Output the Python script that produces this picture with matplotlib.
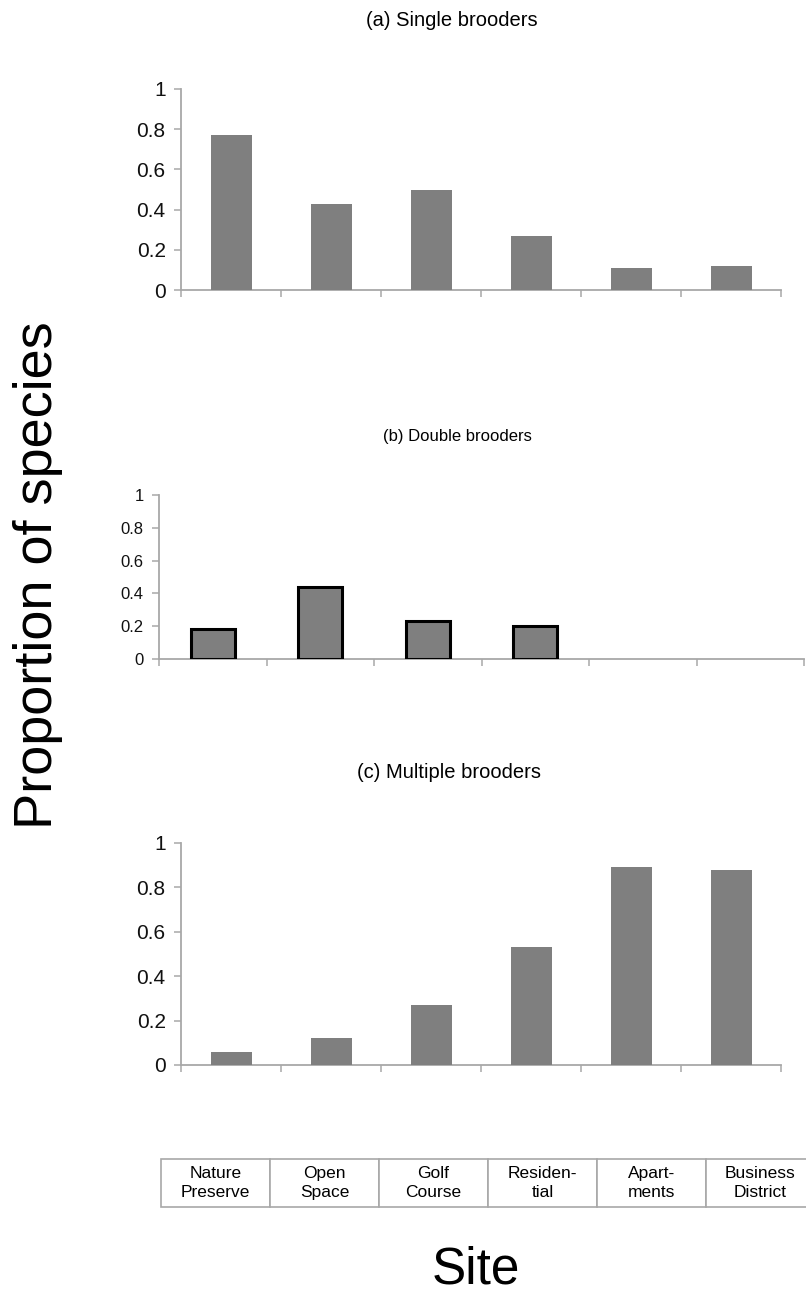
import matplotlib
matplotlib.use("Agg")
import matplotlib.pyplot as plt
import numpy as np

plt.rcParams['font.family'] = ['Liberation Sans', 'DejaVu Sans']

# proportion of species per brooding strategy at each site
sites = ["Nature\nPreserve", "Open\nSpace", "Golf\nCourse",
         "Residen-\ntial", "Apart-\nments", "Business\nDistrict"]
single = [0.77, 0.43, 0.50, 0.27, 0.11, 0.12]
double = [0.18, 0.44, 0.23, 0.20, 0.0, 0.0]
multiple = [0.06, 0.12, 0.27, 0.53, 0.89, 0.88]
yticks = [0, 0.2, 0.4, 0.6, 0.8, 1]
ytick_labels = ["0", "0.2", "0.4", "0.6", "0.8", "1"]

W, H = 806, 1296
BAR = '#7f7f7f'
AXC = '#a8a8a8'


def px_axes(fig, left, right, top, bottom):
    return fig.add_axes([left / W, 1 - bottom / H, (right - left) / W, (bottom - top) / H])


def style_panel(ax, values, tick_size, edge=None):
    x = np.arange(len(values))
    bars = ax.bar(x, values, width=0.41, color=BAR,
                  edgecolor=edge if edge else BAR,
                  linewidth=2.2 if edge else 0, zorder=3)
    for b, v in zip(bars, values):
        if v == 0:
            b.set_visible(False)
    ax.set_xlim(-0.5, len(values) - 0.5)
    ax.set_ylim(0, 1)
    ax.set_xticks(np.arange(len(values) + 1) - 0.5)
    ax.set_xticklabels([])
    ax.set_yticks(yticks)
    ax.set_yticklabels(ytick_labels, fontsize=tick_size)
    for s in ['top', 'right']:
        ax.spines[s].set_visible(False)
    for s in ['left', 'bottom']:
        ax.spines[s].set_color(AXC)
        ax.spines[s].set_linewidth(1.3)
    ax.tick_params(axis='both', direction='out', length=5, width=1.1, color=AXC,
                   labelcolor='#111111')
    ax.tick_params(axis='y', pad=6)
    ax.patch.set_alpha(0)


fig = plt.figure(figsize=(W / 100, H / 100), dpi=100)

ax_a = px_axes(fig, 181, 781, 89, 290)
style_panel(ax_a, single, 15)
fig.text(452 / W, 1 - 20 / H, "(a) Single brooders", fontsize=14.5, ha='center', va='center')

ax_b = px_axes(fig, 159, 804, 495, 659)
style_panel(ax_b, double, 12, edge='black')
fig.text(457 / W, 1 - 437 / H, "(b) Double brooders", fontsize=12, ha='center', va='center')

ax_c = px_axes(fig, 181, 781, 843, 1065)
style_panel(ax_c, multiple, 15)
fig.text(449 / W, 1 - 773 / H, "(c) Multiple brooders", fontsize=14.5, ha='center', va='center')

fig.text(38 / W, 1 - 575 / H, "Proportion of species", fontsize=39,
         rotation=90, ha='center', va='center')
fig.text(476 / W, 1 - 1270 / H, "Site", fontsize=37, ha='center', va='center')

# site names sit in a small table under the panels
ax_t = px_axes(fig, 161, 815, 1159, 1207)
ax_t.axis('off')
tbl = ax_t.table(cellText=[sites], cellLoc='center', bbox=[0, 0, 1, 1])
tbl.auto_set_font_size(False)
for cell in tbl.get_celld().values():
    cell.set_edgecolor(AXC)
    cell.set_linewidth(1.2)
    cell.get_text().set_fontsize(12.5)
    cell.get_text().set_linespacing(1.3)

fig.savefig("out.png", dpi=100)
